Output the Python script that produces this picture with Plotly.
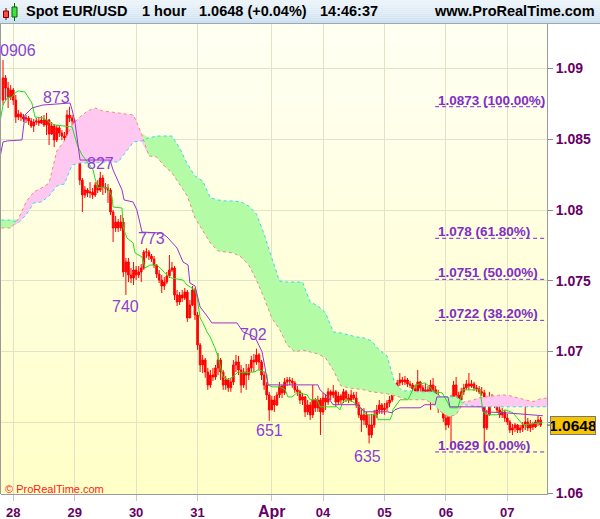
import plotly.graph_objects as go

# ---- hourly EUR/USD candles (index 0 = Sun 27 Mar 20:00, one per hour) ----
first_open = 1.08777
close = [
    1.08933, 1.08862, 1.08799, 1.08848, 1.08777, 1.08657, 1.08678, 1.08657, 1.08643, 1.08650,
    1.08629, 1.08594, 1.08622, 1.08629, 1.08615, 1.08636, 1.08601, 1.08636, 1.08537, 1.08594,
    1.08495, 1.08580, 1.08544, 1.08523, 1.08509, 1.08671, 1.08650, 1.08629, 1.08516, 1.08353,
    1.08211, 1.08106, 1.08141, 1.08120, 1.08127, 1.08106, 1.08176, 1.08141, 1.08226, 1.08162,
    1.08155, 1.08141, 1.07986, 1.07873, 1.07915, 1.07873, 1.07915, 1.07562, 1.07633, 1.07541,
    1.07519, 1.07576, 1.07541, 1.07562, 1.07590, 1.07703, 1.07703, 1.07675, 1.07654, 1.07611,
    1.07548, 1.07505, 1.07463, 1.07491, 1.07534, 1.07576, 1.07590, 1.07399, 1.07350, 1.07399,
    1.07378, 1.07420, 1.07237, 1.07329, 1.07435, 1.07258, 1.07046, 1.06905, 1.06940, 1.06855,
    1.06763, 1.06834, 1.06820, 1.06884, 1.06940, 1.06855, 1.06763, 1.06799, 1.06743, 1.06785,
    1.06905, 1.06926, 1.06870, 1.06763, 1.06855, 1.06834, 1.06884, 1.06940, 1.06926, 1.06976,
    1.06926, 1.06834, 1.06763, 1.06693, 1.06587, 1.06657, 1.06622, 1.06693, 1.06756, 1.06708,
    1.06785, 1.06799, 1.06792, 1.06778, 1.06729, 1.06715, 1.06657, 1.06679, 1.06573, 1.06622,
    1.06552, 1.06657, 1.06601, 1.06657, 1.06573, 1.06671, 1.06643, 1.06715, 1.06693, 1.06715,
    1.06643, 1.06686, 1.06657, 1.06715, 1.06671, 1.06657, 1.06693, 1.06671, 1.06622, 1.06552,
    1.06516, 1.06552, 1.06481, 1.06410, 1.06481, 1.06552, 1.06587, 1.06622, 1.06587, 1.06601,
    1.06636, 1.06657, 1.06700, 1.06743, 1.06778, 1.06799, 1.06785, 1.06799, 1.06771, 1.06763,
    1.06736, 1.06721, 1.06785, 1.06743, 1.06693, 1.06729, 1.06686, 1.06763, 1.06729, 1.06693,
    1.06643, 1.06601, 1.06530, 1.06481, 1.06552, 1.06657, 1.06763, 1.06693, 1.06657, 1.06715,
    1.06743, 1.06771, 1.06756, 1.06771, 1.06743, 1.06736, 1.06715, 1.06708, 1.06460, 1.06552,
    1.06643, 1.06671, 1.06622, 1.06587, 1.06552, 1.06573, 1.06530, 1.06502, 1.06445, 1.06460,
    1.06481, 1.06445, 1.06460, 1.06481, 1.06502, 1.06460, 1.06488, 1.06467, 1.06502, 1.06516,
    1.06480,
]
high = [
    1.09060, 1.08954, 1.08905, 1.08883, 1.08862, 1.08813, 1.08707, 1.08693, 1.08678, 1.08671,
    1.08664, 1.08650, 1.08643, 1.08650, 1.08650, 1.08664, 1.08671, 1.08686, 1.08643, 1.08622,
    1.08608, 1.08601, 1.08594, 1.08565, 1.08551, 1.08707, 1.08730, 1.08671, 1.08643, 1.08523,
    1.08367, 1.08226, 1.08169, 1.08155, 1.08197, 1.08155, 1.08197, 1.08211, 1.08270, 1.08247,
    1.08190, 1.08183, 1.08155, 1.08000, 1.07958, 1.07937, 1.07965, 1.07944, 1.07661, 1.07661,
    1.07590, 1.07633, 1.07604, 1.07604, 1.07618, 1.07717, 1.07730, 1.07717, 1.07689, 1.07675,
    1.07618, 1.07576, 1.07541, 1.07527, 1.07562, 1.07682, 1.07633, 1.07604, 1.07435, 1.07420,
    1.07435, 1.07449, 1.07435, 1.07364, 1.07463, 1.07449, 1.07279, 1.07060, 1.06976, 1.06954,
    1.06884, 1.06870, 1.06884, 1.06905, 1.06990, 1.06954, 1.06870, 1.06827, 1.06813, 1.06813,
    1.06940, 1.06976, 1.06969, 1.06905, 1.06884, 1.06912, 1.06912, 1.06969, 1.06983, 1.07020,
    1.06990, 1.06940, 1.06855, 1.06785, 1.06715, 1.06686, 1.06686, 1.06715, 1.06785, 1.06763,
    1.06813, 1.06820, 1.06820, 1.06813, 1.06792, 1.06756, 1.06729, 1.06708, 1.06686, 1.06657,
    1.06643, 1.06763, 1.06671, 1.06686, 1.06671, 1.06708, 1.06700, 1.06743, 1.06729, 1.06763,
    1.06729, 1.06715, 1.06700, 1.06736, 1.06729, 1.06700, 1.06729, 1.06715, 1.06715, 1.06643,
    1.06601, 1.06601, 1.06573, 1.06552, 1.06559, 1.06587, 1.06622, 1.06657, 1.06636, 1.06636,
    1.06657, 1.06686, 1.06729, 1.06763, 1.06799, 1.06848, 1.06820, 1.06827, 1.06813, 1.06792,
    1.06778, 1.06763, 1.06870, 1.06792, 1.06763, 1.06778, 1.06756, 1.06799, 1.06813, 1.06756,
    1.06729, 1.06671, 1.06622, 1.06566, 1.06587, 1.06693, 1.06792, 1.06820, 1.06715, 1.06743,
    1.06771, 1.06799, 1.06848, 1.06799, 1.06785, 1.06763, 1.06756, 1.06749, 1.06729, 1.06587,
    1.06715, 1.06700, 1.06686, 1.06657, 1.06622, 1.06601, 1.06587, 1.06559, 1.06516, 1.06488,
    1.06495, 1.06488, 1.06481, 1.06502, 1.06608, 1.06530, 1.06516, 1.06502, 1.06516, 1.06545,
    1.06537,
]
low = [
    1.08742, 1.08777, 1.08721, 1.08777, 1.08742, 1.08615, 1.08636, 1.08629, 1.08622, 1.08615,
    1.08601, 1.08580, 1.08551, 1.08601, 1.08594, 1.08608, 1.08587, 1.08530, 1.08459, 1.08530,
    1.08445, 1.08481, 1.08516, 1.08495, 1.08488, 1.08502, 1.08622, 1.08601, 1.08495, 1.08332,
    1.08176, 1.07986, 1.08085, 1.08092, 1.08085, 1.08078, 1.08092, 1.08120, 1.08127, 1.08106,
    1.08120, 1.08050, 1.07965, 1.07774, 1.07845, 1.07845, 1.07852, 1.07527, 1.07400, 1.07491,
    1.07484, 1.07470, 1.07505, 1.07519, 1.07491, 1.07576, 1.07661, 1.07647, 1.07633, 1.07590,
    1.07519, 1.07484, 1.07413, 1.07435, 1.07477, 1.07519, 1.07562, 1.07364, 1.07322, 1.07329,
    1.07350, 1.07364, 1.07209, 1.07237, 1.07322, 1.07223, 1.07011, 1.06855, 1.06848, 1.06814,
    1.06729, 1.06743, 1.06792, 1.06799, 1.06834, 1.06799, 1.06729, 1.06729, 1.06715, 1.06715,
    1.06763, 1.06855, 1.06834, 1.06708, 1.06743, 1.06729, 1.06799, 1.06855, 1.06855, 1.06905,
    1.06870, 1.06799, 1.06729, 1.06657, 1.06510, 1.06587, 1.06573, 1.06615, 1.06671, 1.06671,
    1.06693, 1.06756, 1.06763, 1.06743, 1.06708, 1.06686, 1.06630, 1.06622, 1.06537, 1.06552,
    1.06516, 1.06530, 1.06573, 1.06573, 1.06410, 1.06552, 1.06587, 1.06622, 1.06657, 1.06671,
    1.06608, 1.06622, 1.06630, 1.06636, 1.06643, 1.06636, 1.06643, 1.06657, 1.06601, 1.06530,
    1.06431, 1.06481, 1.06460, 1.06350, 1.06389, 1.06460, 1.06530, 1.06559, 1.06559, 1.06552,
    1.06580, 1.06608, 1.06643, 1.06686, 1.06729, 1.06756, 1.06763, 1.06763, 1.06749, 1.06743,
    1.06721, 1.06708, 1.06700, 1.06715, 1.06679, 1.06657, 1.06657, 1.06587, 1.06708, 1.06671,
    1.06566, 1.06573, 1.06502, 1.06445, 1.06460, 1.06327, 1.06643, 1.06671, 1.06630, 1.06643,
    1.06693, 1.06729, 1.06729, 1.06743, 1.06721, 1.06715, 1.06700, 1.06686, 1.06290, 1.06445,
    1.06545, 1.06622, 1.06601, 1.06566, 1.06530, 1.06530, 1.06502, 1.06481, 1.06424, 1.06410,
    1.06431, 1.06424, 1.06424, 1.06431, 1.06445, 1.06438, 1.06431, 1.06445, 1.06460, 1.06474,
    1.06467,
]
opens = [first_open] + close[:-1]
hours = list(range(len(close)))

# ---- Ichimoku lines (read at hour index) ----
tenkan_x = [-1.2, 0, 1.6, 3.5, 4.7, 5.9, 8.6, 9.8, 11.3, 12.5, 15.6, 17.2, 18.4, 20.3, 25.4, 27.0,
            28.1, 29.3, 30.9, 35.2, 35.9, 37.1, 39.1, 41.0, 42.6, 43.0, 46.5, 46.9, 48.4, 50.8,
            51.6, 54.3, 55.5, 57.4, 60.2, 62.1, 64.1, 66.0, 70.3, 71.9, 75.0, 75.8, 77.0, 78.1,
            79.7, 80.9, 82.8, 84.0, 84.8, 85.9, 87.9, 89.8, 91.8, 93.8, 98.4, 99.6, 102.3, 103.1,
            103.5, 105.1, 108.2, 110.2, 111.3, 112.9, 114.8, 118.8, 119.9, 122.7, 123.8, 130.5,
            131.6, 132.8, 134.8, 136.7, 139.5, 142.2, 146.1, 146.5, 151.2, 152.0, 152.3, 153.9,
            155.1, 158.2, 159.8, 161.0, 164.8, 166.8, 168.0, 171.5, 173.8, 174.6, 177.7, 179.7,
            186.3, 187.5, 189.1, 193.0, 196.1, 199.2, 200.8, 203.1, 210.9]
tenkan_y = [1.08622, 1.08742, 1.08792, 1.08799, 1.08827, 1.08841, 1.08834, 1.08799, 1.08756,
            1.08657, 1.08650, 1.08636, 1.08615, 1.08601, 1.08594, 1.08587, 1.08516, 1.08445,
            1.08389, 1.08283, 1.08226, 1.08155, 1.08162, 1.08155, 1.08092, 1.08021, 1.08014,
            1.07880, 1.07802, 1.07767, 1.07696, 1.07668, 1.07590, 1.07611, 1.07611, 1.07576,
            1.07541, 1.07519, 1.07505, 1.07470, 1.07435, 1.07385, 1.07237, 1.07202, 1.07138,
            1.07103, 1.07025, 1.06961, 1.06891, 1.06821, 1.06800, 1.06821, 1.06856, 1.06849,
            1.06856, 1.06870, 1.06856, 1.06835, 1.06764, 1.06750, 1.06750, 1.06729, 1.06679,
            1.06679, 1.06708, 1.06694, 1.06659, 1.06659, 1.06609, 1.06609, 1.06588, 1.06645,
            1.06659, 1.06645, 1.06602, 1.06553, 1.06553, 1.06518, 1.06518, 1.06553, 1.06588,
            1.06624, 1.06659, 1.06659, 1.06715, 1.06764, 1.06778, 1.06750, 1.06715, 1.06708,
            1.06638, 1.06602, 1.06602, 1.06729, 1.06729, 1.06574, 1.06553, 1.06553, 1.06588,
            1.06567, 1.06532, 1.06482, 1.06497]
kijun_x = [-1.2, 0, 1.6, 7.4, 8.6, 11.3, 15.6, 26.2, 27.0, 28.1, 30.1, 41.8, 43.0, 44.9, 46.5,
           47.3, 50.8, 52.3, 54.3, 62.1, 64.1, 68.0, 70.3, 72.3, 73.0, 75.0, 77.0, 79.7, 81.6,
           91.4, 93.8, 98.4, 99.6, 101.2, 102.3, 103.1, 103.5, 123.0, 123.8, 126.9, 128.9, 138.3,
           139.5, 141.4, 150.0, 152.0, 153.1, 155.1, 162.9, 164.8, 168.8, 169.5, 173.8, 174.6,
           187.1, 187.5, 196.1, 204.7, 210.9]
kijun_y = [1.08368, 1.08481, 1.08488, 1.08495, 1.08671, 1.08721, 1.08742, 1.08756, 1.08707,
           1.08622, 1.08353, 1.08353, 1.08283, 1.08211, 1.08141, 1.08071, 1.08057, 1.08000,
           1.07844, 1.07837, 1.07809, 1.07731, 1.07633, 1.07611, 1.07484, 1.07463, 1.07315,
           1.07251, 1.07202, 1.07202, 1.07138, 1.07103, 1.07060, 1.06997, 1.06891, 1.06821,
           1.06764, 1.06764, 1.06729, 1.06679, 1.06624, 1.06624, 1.06602, 1.06574, 1.06574,
           1.06567, 1.06588, 1.06602, 1.06602, 1.06624, 1.06624, 1.06679, 1.06679, 1.06609,
           1.06609, 1.06574, 1.06567, 1.06553, 1.06546]
cloud_x = list(range(-3, 214, 3))
span_a = [1.07929, 1.07929, 1.07929, 1.07908, 1.07965, 1.08050, 1.08057, 1.08099, 1.08169,
          1.08184, 1.08318, 1.08332, 1.08332, 1.08332, 1.08339, 1.08339, 1.08339, 1.08410,
          1.08481, 1.08488, 1.08509, 1.08523, 1.08523, 1.08523, 1.08438, 1.08325, 1.08240,
          1.08205, 1.08085, 1.08071, 1.08064, 1.08064, 1.08057, 1.08028, 1.07972, 1.07830,
          1.07661, 1.07498, 1.07491, 1.07491, 1.07491, 1.07350, 1.07322, 1.07273, 1.07138,
          1.07131, 1.07117, 1.07103, 1.07096, 1.07074, 1.07011, 1.06969, 1.06778, 1.06722,
          1.06722, 1.06715, 1.06715, 1.06715, 1.06680, 1.06680, 1.06680, 1.06624, 1.06617,
          1.06609, 1.06609, 1.06609, 1.06609, 1.06609, 1.06609, 1.06609, 1.06609, 1.06609,
          1.06609]
span_b = [1.07873, 1.07873, 1.07873, 1.07936, 1.08057, 1.08127, 1.08155, 1.08190, 1.08417,
          1.08488, 1.08601, 1.08657, 1.08700, 1.08721, 1.08700, 1.08693, 1.08686, 1.08678,
          1.08671, 1.08544, 1.08382, 1.08375, 1.08311, 1.08262, 1.08184, 1.08099, 1.07944,
          1.07852, 1.07767, 1.07710, 1.07703, 1.07696, 1.07668, 1.07611, 1.07505, 1.07378,
          1.07237, 1.07159, 1.07046, 1.06997, 1.07011, 1.06997, 1.06983, 1.06954, 1.06870,
          1.06757, 1.06743, 1.06736, 1.06729, 1.06715, 1.06708, 1.06701, 1.06687, 1.06673,
          1.06659, 1.06659, 1.06659, 1.06631, 1.06574, 1.06539, 1.06553, 1.06645, 1.06652,
          1.06673, 1.06680, 1.06687, 1.06694, 1.06687, 1.06673, 1.06659, 1.06645, 1.06666,
          1.06673]

# ---- zigzag swing points ----
swing_x = [0, 26, 38, 48, 56, 99, 104, 143]
swing_price = [1.0906, 1.0873, 1.0827, 1.0740, 1.0773, 1.0702, 1.0651, 1.0635]
swing_text = ["0906", "873", "827", "740", "773", "702", "651", "635"]
swing_shift = [(15, 10), (-13, 9), (0, 8), (0, -12), (5, 10), (-3, 14), (0, -10), (-2, -13)]

# ---- fibonacci retracement drawn between 1.0873 and 1.0629 ----
fib_levels = [1.0873, 1.0780, 1.0751, 1.0722, 1.0629]
fib_pct = ["100.00%", "61.80%", "50.00%", "38.20%", "0.00%"]
fib_x0, fib_x1 = 168.8, 211.7

day_ticks = [4, 28, 52, 76, 105, 125, 149, 173, 197]
day_labels = ["28", "29", "30", "31", "Apr", "04", "05", "06", "07"]
price_ticks = [1.06, 1.065, 1.07, 1.075, 1.08, 1.085, 1.09]
price_labels = ["1.06", "", "1.07", "1.075", "1.08", "1.085", "1.09"]

FONT = "Liberation Sans, Arial, sans-serif"
PURPLE_AX = "#660066"

fig = go.Figure()

# cloud fills: green where span A is above span B, pink where B is above A
upper = [max(a, b) for a, b in zip(span_a, span_b)]
lower = [min(a, b) for a, b in zip(span_a, span_b)]
for edge, col in [(upper, "#b4fba6"), (lower, "#ffc8f0")]:
    fig.add_trace(go.Scatter(x=cloud_x, y=span_b, mode="lines", line=dict(width=0),
                             hoverinfo="skip", showlegend=False))
    fig.add_trace(go.Scatter(x=cloud_x, y=edge, mode="lines", line=dict(width=0),
                             fill="tonexty", fillcolor=col, hoverinfo="skip", showlegend=False))
fig.add_trace(go.Scatter(x=cloud_x, y=span_a, mode="lines",
                         line=dict(color="#30d8f8", width=1, dash="3px,3px"), showlegend=False))
fig.add_trace(go.Scatter(x=cloud_x, y=span_b, mode="lines",
                         line=dict(color="#f08a80", width=1, dash="3px,3px"), showlegend=False))

fig.add_trace(go.Candlestick(
    x=hours, open=opens, high=high, low=low, close=close,
    increasing=dict(line=dict(color="#ff0000", width=1), fillcolor="#ff0000"),
    decreasing=dict(line=dict(color="#ff0000", width=1), fillcolor="#ff0000"),
    whiskerwidth=0, showlegend=False))

fig.add_trace(go.Scatter(x=tenkan_x, y=tenkan_y, mode="lines",
                         line=dict(color="#1ee01e", width=1), showlegend=False))
fig.add_trace(go.Scatter(x=kijun_x, y=kijun_y, mode="lines",
                         line=dict(color="#9933cc", width=1), showlegend=False))


def px_x(p):
    return (p - 1) / 546.0


def px_y(p):
    return (494 - p) / 470.0


shapes = []
# pale yellow gradient of the plot area
n = 24
for k in range(n):
    t = k / (n - 1)
    g = int(round(200 + 42 * t))
    shapes.append(dict(type="rect", xref="paper", yref="paper", x0=0, x1=1,
                       y0=k / n, y1=(k + 1) / n, fillcolor=f"rgb(255,255,{g})",
                       line=dict(width=0), layer="below"))
# header bar
for k in range(12):
    t = k / 11
    r = int(round(206 + 30 * t)); gg = int(round(225 + 19 * t)); b = int(round(240 + 10 * t))
    shapes.append(dict(type="rect", xref="paper", yref="paper", x0=px_x(0), x1=px_x(600),
                       y0=px_y(23 - 23 * k / 12), y1=px_y(23 - 23 * (k + 1) / 12),
                       fillcolor=f"rgb({r},{gg},{b})", line=dict(width=0), layer="below"))
shapes.append(dict(type="line", xref="paper", yref="paper", x0=px_x(0), x1=px_x(600),
                   y0=px_y(23.5), y1=px_y(23.5), line=dict(color="#9aa8b4", width=1)))
shapes.append(dict(type="line", xref="paper", yref="paper", x0=px_x(0.5), x1=px_x(0.5),
                   y0=0, y1=1, line=dict(color="#9a9a9a", width=1)))
# header icon: a red and a green candle
shapes += [
    dict(type="line", xref="paper", yref="paper", x0=px_x(6), x1=px_x(6), y0=px_y(20), y1=px_y(8),
         line=dict(color="#7a0000", width=1)),
    dict(type="rect", xref="paper", yref="paper", x0=px_x(3.5), x1=px_x(8.5), y0=px_y(17.5), y1=px_y(11),
         fillcolor="#ff4a4a", line=dict(color="#7a0000", width=1)),
    dict(type="line", xref="paper", yref="paper", x0=px_x(14.5), x1=px_x(14.5), y0=px_y(21), y1=px_y(3),
         line=dict(color="#006600", width=1)),
    dict(type="rect", xref="paper", yref="paper", x0=px_x(12), x1=px_x(17), y0=px_y(17), y1=px_y(7),
         fillcolor="#44e044", line=dict(color="#006600", width=1)),
]
# fibonacci levels
for lvl in fib_levels:
    shapes.append(dict(type="line", xref="x", yref="y", x0=fib_x0, x1=fib_x1, y0=lvl, y1=lvl,
                       line=dict(color="#7a2ec4", width=1, dash="4px,3px")))
# marker from the axis to the last price box
shapes.append(dict(type="line", xref="paper", yref="y", x0=1, x1=px_x(551), y0=close[-1], y1=close[-1],
                   line=dict(color="#555555", width=1)))

ann = []
for x, p, t, (dx, dy) in zip(swing_x, swing_price, swing_text, swing_shift):
    ann.append(dict(x=x, y=p, xref="x", yref="y", text=t, showarrow=False, xshift=dx, yshift=dy,
                    font=dict(family=FONT, size=16, color="#8b3fd4")))
for lvl, pct in zip(fib_levels, fib_pct):
    ann.append(dict(x=fib_x0 + 0.3, y=lvl, xref="x", yref="y", text=f"{lvl:g} ({pct})",
                    xanchor="left", yanchor="bottom", yshift=-3, showarrow=False,
                    font=dict(family=FONT, size=13.5, color="#7f2ec8", weight="bold")))
ann.append(dict(x=px_x(573), y=close[-1], xref="paper", yref="y", text=f"{close[-1]:.4f}",
                xanchor="center", yanchor="middle",
                showarrow=False, bgcolor="#f6c400", bordercolor="#777777", borderwidth=1, borderpad=0,
                width=44, height=17,
                font=dict(family=FONT, size=15.5, color="#000000", weight="bold")))
ann.append(dict(x=px_x(3), y=px_y(489), xref="paper", yref="paper", text="© ProRealTime.com",
                xanchor="left", yanchor="middle", showarrow=False,
                font=dict(family=FONT, size=11, color="#ff1a1a")))
header = [("Spot EUR/USD", 23.5), ("1 hour", 140), ("1.0648 (+0.04%)", 197), ("14:46:37", 318)]
for txt, x0 in header:
    ann.append(dict(x=px_x(x0), y=px_y(11.5), xref="paper", yref="paper", text=txt,
                    xanchor="left", yanchor="middle", showarrow=False,
                    font=dict(family=FONT, size=14.5, color="#000000", weight="bold")))
ann.append(dict(x=px_x(597), y=px_y(11.5), xref="paper", yref="paper", text="www.ProRealTime.com",
                xanchor="right", yanchor="middle", showarrow=False,
                font=dict(family=FONT, size=14.5, color="#000000", weight="bold")))

tick_text = [f"<span style='font-size:16px'>{d}</span>" if d == "Apr" else d for d in day_labels]

fig.update_layout(
    width=600, height=519,
    margin=dict(l=1, r=53, t=24, b=25),
    paper_bgcolor="#ffffff", plot_bgcolor="rgba(0,0,0,0)",
    showlegend=False,
    shapes=shapes, annotations=ann,
    xaxis=dict(range=[-0.78, 212.5], tickmode="array", tickvals=day_ticks, ticktext=tick_text,
               showgrid=True, gridcolor="#e2e2c6", gridwidth=1, zeroline=False,
               ticks="outside", ticklen=6, tickcolor="#c8c8b8",
               showline=True, linecolor="#9a9a9a", linewidth=1, automargin=False,
               tickfont=dict(family=FONT, size=13, color=PURPLE_AX, weight="bold"),
               rangeslider=dict(visible=False), fixedrange=True),
    yaxis=dict(range=[1.059929, 1.093145], side="right", tickmode="array",
               tickvals=price_ticks, ticktext=price_labels,
               showgrid=True, gridcolor="#e2e2c6", gridwidth=1, zeroline=False,
               ticks="outside", ticklen=5, tickcolor="#8c8c8c",
               showline=True, linecolor="#9a9a9a", linewidth=1, automargin=False,
               tickfont=dict(family=FONT, size=14, color=PURPLE_AX, weight="bold"),
               fixedrange=True),
    boxgap=0.1,
)

fig.write_html("out.html", config={"displayModeBar": False},
               post_script="document.body.style.margin='0px';")
